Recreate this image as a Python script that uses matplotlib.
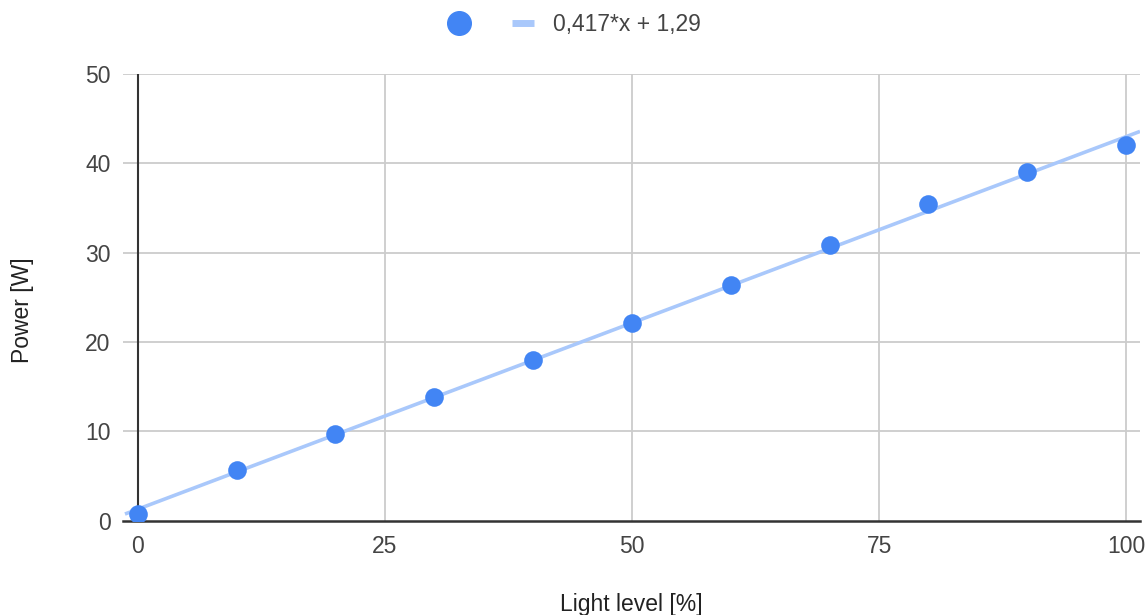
import matplotlib
matplotlib.use("Agg")
import matplotlib.pyplot as plt
import numpy as np
from matplotlib.lines import Line2D

plt.rcParams['font.family'] = ['Liberation Sans', 'DejaVu Sans']

light_level = [0, 10, 20, 30, 40, 50, 60, 70, 80, 90, 100]
power = [0.7, 5.7, 9.7, 13.85, 18.0, 22.1, 26.4, 30.9, 35.4, 39.0, 42.0]
slope = 0.417
intercept = 1.29
trend_label = "0,417*x + 1,29"
x_ticks = [0, 25, 50, 75, 100]
y_ticks = [0, 10, 20, 30, 40, 50]

FS = 16.5

fig = plt.figure(figsize=(11.48, 6.15), dpi=100)
ax = fig.add_axes([123/1148, 1 - 520.7/615, (1140-123)/1148, (520.7-74)/615])

xmin, xmax = -1.5, 101.4
ax.set_xlim(xmin, xmax)
ax.set_ylim(0, 50)

# grid
for t in x_ticks[1:]:
    ax.axvline(t, color='#cccccc', lw=1.3, zorder=1)
for t in y_ticks[1:]:
    ax.axhline(t, color='#cccccc', lw=1.3, zorder=1)
ax.axvline(0, color='#333333', lw=1.5, zorder=2)
ax.axhline(0, color='#333333', lw=1.8, zorder=2, clip_on=False)

xs = np.array([xmin + 0.2, xmax])
ax.plot(xs, slope * xs + intercept, color='#a9c8fb', lw=2.6, zorder=3, solid_capstyle='butt')
ax.scatter(light_level, power, s=180, color='#4285f4', zorder=4, linewidths=0)

for s in ax.spines.values():
    s.set_visible(False)
ax.set_xticks(x_ticks)
ax.set_yticks(y_ticks)
ax.tick_params(length=0, labelsize=FS, colors='#444444')
ax.tick_params(axis='y', pad=9)
ax.tick_params(axis='x', pad=10)

ax.set_xlabel('Light level [%]', fontsize=FS, color='#222222')
ax.set_ylabel('Power [W]', fontsize=FS, color='#222222')
ax.xaxis.set_label_coords(0.5, -(605-520.7)/(520.7-74))
ax.xaxis.label.set_va('center')
ax.yaxis.set_label_coords(-(123-23)/(1140-123), (520.7-310)/(520.7-74))
ax.yaxis.label.set_va('center')

handles = [
    Line2D([], [], marker='o', color='#4285f4', linestyle='None', markersize=17),
    Line2D([], [], color='#a9c8fb', lw=5, solid_capstyle='butt'),
]
fig.legend(handles, ['', trend_label], loc='center', bbox_to_anchor=(574/1148, 1 - 25/615),
           ncol=2, frameon=False, fontsize=FS, handlelength=1.0, columnspacing=1.0,
           handletextpad=0.8, labelcolor='#444444')

fig.savefig('out.png', dpi=100)
